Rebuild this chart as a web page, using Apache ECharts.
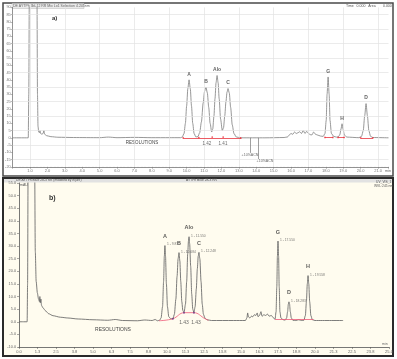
<!DOCTYPE html>
<html><head><meta charset="utf-8">
<script src="https://cdn.jsdelivr.net/npm/echarts@6/dist/echarts.min.js"></script>
<style>html,body{margin:0;padding:0;background:#fff}#c{width:397px;height:359px}</style>
</head><body><div id="c"></div>
<script>
// ---------- data: panel a) ----------
const topXTickLabels = ['1.0','2.0','3.0','4.0','5.0','6.0','7.0','8.0','9.0','10.0','11.0','12.0','13.0','14.0','15.0','16.0','17.0','18.0','19.0','20.0','21.0'];
const topYTickLabels = ['-20','-15','-10','-5','0','5','10','15','20','25','30','35','40','45','50','55','60','65','70','75','80','85','90'];
const topGridX = [1,3,5,7,9,11,13,15,17,19,21];
const topGridY = [-15,-5,5,15,25,35,45,55,65,75,85];
const topTrace = [
 [0,0],[0.9,0],[0.93,30],[0.96,100],[1.0,150],[1.36,150],[1.4,100],[1.43,30],[1.46,8],[1.5,4],[1.54,3.5],[1.57,5],[1.61,3],[1.68,2.5],[1.75,3],[1.8,5],[1.84,2.5],[1.95,1.5],[2.2,0.8],[2.6,0.4],[3.5,0.2],[5,0.1],[5.5,0.5],[6,0.1],[7,0.3],[8,0.1],[9,0.1],[9.65,0.1],
 [9.75,0.5],[9.85,3],[9.93,10],[10.0,22],[10.07,34],[10.14,40],[10.21,34],[10.28,22],[10.35,10],[10.43,3],[10.53,0.6],
 [10.65,0.8],[10.75,3.5],[10.85,11],[10.95,24],[11.03,32],[11.11,35],[11.19,31],[11.27,21],[11.35,10],[11.44,4],
 [11.5,6],[11.57,15],[11.63,27],[11.69,38],[11.75,43],[11.81,38],[11.87,27],[11.95,13],[12.05,5],
 [12.12,7],[12.19,15],[12.26,25],[12.32,31.5],[12.38,34],[12.45,31],[12.53,21],[12.62,9],[12.72,3],[12.85,0.6],[13.1,0],
 [14.5,0],[15.6,0.2],[15.8,0.6],[15.9,2],[16.0,3],[16.1,2.4],[16.2,4],[16.3,3],[16.4,3.5],[16.5,4.2],[16.6,3],[16.7,5],[16.8,3],[16.9,4.5],[17.0,3],[17.1,2.2],[17.2,2],[17.3,4],[17.4,2.5],[17.5,2],[17.7,1.2],
 [17.85,1],[17.95,3],[18.02,12],[18.07,30],[18.13,42],[18.19,30],[18.24,12],[18.32,3],[18.45,1],[18.6,0.5],
 [18.7,0.6],[18.8,2],[18.87,6],[18.93,9.7],[18.99,6],[19.06,2],[19.2,0.5],
 [19.9,0.1],[20.05,1],[20.15,5],[20.23,15],[20.31,23.6],[20.39,15],[20.47,5],[20.57,1],[20.7,0.2],[21.6,0]
];
const topPeakNames = ['A','B','Alo','C','G','H','D'];
const topPeakTimes = [10.14,11.11,11.75,12.38,18.13,18.93,20.31];
const topPeakHeights = [40,35,43,34,42,9.7,23.6];
const topResLabels = ['1.42','1.41'];
const topResTimes = [11.17,12.09];
const topResValues = [-4.2,-4.2];
const topEventTimes = [13.64,14.1];
const topEventDepths = [-10.4,-14.6];
const topEventLabels = ['+10%ACN','+10%ACN'];
const topRedSegs = [[9.8,0,13.15,0],[17.95,0.3,18.4,0.3],[18.7,0.3,19.05,0.3],[20.0,0,20.7,0]];
const topRedDots = [[9.8,0],[10.7,0.2],[11.47,0.5],[12.1,0.5],[13.1,0],[17.95,0.3],[18.4,0.3],[18.7,0.3],[19.05,0.3],[20.0,0],[20.7,0]];

// ---------- data: panel b) ----------
const botXTickLabels = ['0.0','1.3','2.5','3.8','5.0','6.3','7.5','8.8','10.0','11.3','12.5','13.8','15.0','16.3','17.5','18.8','20.0','21.3','22.5','23.8','25.0'];
const botYTickLabels = ['-10.0','-5.0','0.0','5.0','10.0','15.0','20.0','25.0','30.0','35.0','40.0','45.0','50.0','55.0'];
const botTrace = [
 [0,0],[0.55,0],[0.58,15],[0.62,70],[0.66,120],[1.02,120],[1.06,60],[1.1,28],[1.16,16],[1.24,11.5],[1.32,9],[1.38,8],[1.41,10],[1.44,7.5],[1.48,9],[1.52,6.5],[1.62,5.5],[1.8,4.3],[2.0,3.2],[2.3,2.4],[2.8,1.8],[3.3,1.5],[4,1.1],[5,0.8],[6,0.6],[6.5,0.9],[7,0.5],[8,0.4],[8.5,0.7],[9,0.5],[9.2,0.9],[9.35,0.4],
 [9.5,0.6],[9.6,1.5],[9.7,6],[9.77,16],[9.82,26],[9.86,30.2],[9.9,26],[9.96,15],[10.03,6],[10.12,2],[10.25,1.2],
 [10.4,1.2],[10.5,3],[10.6,9],[10.68,18],[10.75,25],[10.81,27.4],[10.87,24],[10.93,16],[11.0,8],[11.07,4.5],[11.15,3.6],
 [11.25,7],[11.33,16],[11.4,27],[11.45,32],[11.49,33.7],[11.53,31],[11.6,22],[11.67,11],[11.74,5],[11.82,3.6],
 [11.9,6],[11.98,13],[12.05,21],[12.11,26],[12.16,27.5],[12.22,25],[12.3,16],[12.38,7],[12.46,3],[12.56,1.5],[12.7,0.8],[13,0.5],
 [14.5,0.5],[15.3,0.5],[15.4,1.5],[15.45,3.5],[15.5,2],[15.6,1.5],[15.7,2.2],[15.8,2],[15.9,2.8],[16.0,2.5],[16.1,3.5],[16.15,2],[16.25,2.5],[16.35,4],[16.42,2.2],[16.55,2.8],[16.65,2.5],[16.8,3],[16.9,2.2],[17.05,2.5],[17.2,1.5],[17.3,1],
 [17.37,4],[17.42,14],[17.46,26],[17.5,32],[17.54,26],[17.58,14],[17.63,4],[17.7,1.5],[17.8,1],[17.9,0.7],
 [18.0,0.7],[18.08,1.5],[18.15,4],[18.2,7],[18.24,7.9],[18.28,7],[18.33,4],[18.4,1.5],[18.5,0.6],[18.7,0.5],[18.9,0.8],[19.1,0.5],
 [19.25,0.6],[19.35,2.5],[19.42,8],[19.48,15],[19.53,18.3],[19.58,15],[19.64,8],[19.72,2.5],[19.82,0.8],[20,0.5],[21.9,0.5]
];
const botPeakNames = ['A','B','Alo','C','G','D','H'];
const botPeakTimes = [9.86,10.81,11.49,12.16,17.5,18.24,19.53];
const botPeakHeights = [30.2,27.4,33.7,27.5,32,7.9,18.3];
const botPeakTags = ['1 - 9.871','1 - 10.684','1 - 11.550','1 - 12.248','1 - 17.550','1 - 18.283','1 - 19.558'];
const botResLabels = ['1.43','1.43'];
const botResTimes = [11.15,11.96];
const botResValues = [-0.4,-0.4];
const botRedCurve = [[9.45,0.4],[10.4,1.2],[11.15,3.6],[11.82,3.6],[12.57,1.2],[12.8,0.6]];
const botRedSegs = [[17.3,0.9,19.9,0.9]];
const botValleyDots = [[10.4,1.2],[11.15,3.6],[11.82,3.6]];

// ---------- chart ----------
const chart = echarts.init(document.getElementById('c'), null, {renderer:'canvas'});
const F = 'Liberation Sans, Arial, sans-serif';
const axisCommon = (color) => ({
  axisLine:{show:true,onZero:false,lineStyle:{color:color,width:0.8}},
  axisTick:{show:true,length:2,lineStyle:{color:color,width:0.5}},
  splitLine:{show:false}
});

const option = {
  animation:false,
  backgroundColor:'#ffffff',
  textStyle:{fontFamily:F},
  grid:[
    {left:12.6, right:8.5, top:7.4, height:159.4},
    {left:19, right:8, top:183, height:164}
  ],
  xAxis:[
    Object.assign({gridIndex:0,type:'value',min:0,max:21.6,interval:1,
      minorTick:{show:true,splitNumber:5,length:1,lineStyle:{color:'#888',width:0.4}},
      axisLabel:{fontSize:4,color:'#777',margin:2,showMaxLabel:false,
        formatter:v=>{const i=Math.round(v)-1;return (i>=0&&i<topXTickLabels.length)?topXTickLabels[i]:'';}}
    }, axisCommon('#777')),
    Object.assign({gridIndex:1,type:'value',min:0,max:25,interval:1.25,
      minorTick:{show:true,splitNumber:5,length:1,lineStyle:{color:'#777',width:0.4}},
      axisLabel:{fontSize:4,color:'#666',margin:3,
        formatter:v=>{const i=Math.round(v/1.25);return botXTickLabels[i]||'';}}
    }, axisCommon('#555'))
  ],
  yAxis:[
    Object.assign({gridIndex:0,type:'value',min:-20,max:90,interval:5,
      axisLabel:{fontSize:3.8,color:'#777',margin:2,
        formatter:v=>topYTickLabels[Math.round((v+20)/5)]||''}
    }, axisCommon('#777')),
    Object.assign({gridIndex:1,type:'value',min:-10,max:55,interval:5,
      axisLabel:{fontSize:3.8,color:'#666',margin:3,
        formatter:v=>botYTickLabels[Math.round((v+10)/5)]||''}
    }, axisCommon('#555'))
  ],
  graphic:[
    {type:'rect',z:-10,shape:{x:3,y:3,width:390,height:173},style:{fill:'#ffffff',stroke:'#4a4a4a',lineWidth:1.5}},
    {type:'rect',z:-9,shape:{x:12,y:3.5,width:72,height:5},style:{fill:'#eaeaea',stroke:'#bbbbbb',lineWidth:0.5}},
    {type:'text',z:5,style:{x:13,y:4,text:'DE AYTPh 3bl-12 RR Mix Lo1 Selection 4.245nm',fontSize:3.5,fill:'#666',fontFamily:F}},
    {type:'text',z:5,style:{x:346,y:4,text:'Time   0.000   Area',fontSize:3.5,fill:'#555',fontFamily:F}},
    {type:'text',z:5,style:{x:383,y:4,text:'0.000',fontSize:3.5,fill:'#555',fontFamily:F}},
    {type:'text',z:5,style:{x:52,y:15,text:'a)',fontSize:6,fontWeight:'bold',fill:'#333',fontFamily:F}},
    {type:'text',z:5,style:{x:142,y:143,text:'RESOLUTIONS',fontSize:4.5,fill:'#444',align:'center',verticalAlign:'middle',fontFamily:F}},
    {type:'text',z:5,style:{x:385,y:168.5,text:'min',fontSize:3.8,fill:'#666',fontFamily:F}},

    {type:'rect',z:-10,shape:{x:3,y:178,width:390,height:178},style:{fill:'#fffcef',stroke:'#2a2a2a',lineWidth:2}},
    {type:'rect',z:-9,shape:{x:4,y:179,width:388,height:3.5},style:{fill:'#e2e2e2'}},
    {type:'text',z:5,style:{x:16,y:179,text:'DE AYTPh Blue 28-3 RR (modified by Injure)',fontSize:3.3,fill:'#555',fontFamily:F}},
    {type:'text',z:5,style:{x:186,y:179,text:'AYTPh Blue 28-3 RR',fontSize:3.3,fill:'#555',fontFamily:F}},
    {type:'text',z:5,style:{x:376,y:180.5,text:'UV_VIS_1',fontSize:3.3,fill:'#555',fontFamily:F}},
    {type:'text',z:5,style:{x:374,y:184.5,text:'WVL:245 nm',fontSize:3.3,fill:'#555',fontFamily:F}},
    {type:'text',z:5,style:{x:20,y:183.5,text:'mAU',fontSize:3.5,fill:'#555',fontFamily:F}},
    {type:'text',z:5,style:{x:49,y:195,text:'b)',fontSize:7,fontWeight:'bold',fill:'#333',fontFamily:F}},
    {type:'text',z:5,style:{x:113,y:330,text:'RESOLUTIONS',fontSize:5,fill:'#444',align:'center',verticalAlign:'middle',fontFamily:F}},
    {type:'text',z:5,style:{x:382,y:342,text:'min',fontSize:3.5,fill:'#666',fontFamily:F}}
  ],
  series:[
    {type:'line',xAxisIndex:0,yAxisIndex:0,data:[],silent:true,z:1,
      markLine:{silent:true,symbol:'none',animation:false,label:{show:false},
        lineStyle:{color:'#e2e2e2',width:0.7,type:'solid'},
        data:topGridX.map(v=>({xAxis:v})).concat(topGridY.map(v=>({yAxis:v})))}},
    {type:'line',xAxisIndex:0,yAxisIndex:0,data:topTrace,showSymbol:false,smooth:0.25,smoothMonotone:'x',
      lineStyle:{color:'#7e7e7e',width:0.8},z:3},
    {type:'line',xAxisIndex:0,yAxisIndex:0,data:[],z:4,
      markLine:{silent:true,symbol:'none',label:{show:false},animation:false,
        data:topRedSegs.map(s=>[{coord:[s[0],s[1]],lineStyle:{color:'#e8333d',width:0.8,type:'solid'}},{coord:[s[2],s[3]]}])
          .concat(topEventTimes.map((t,i)=>[{coord:[t,0],lineStyle:{color:'#777',width:0.7,type:'solid'}},{coord:[t,topEventDepths[i]]}]))}},
    {type:'scatter',xAxisIndex:0,yAxisIndex:0,data:topRedDots,symbol:'circle',symbolSize:1.8,itemStyle:{color:'#e8333d'},z:5},
    {type:'scatter',xAxisIndex:0,yAxisIndex:0,symbolSize:0,z:6,
      data:topPeakTimes.map((t,i)=>({value:[t,topPeakHeights[i]],name:topPeakNames[i]})),
      label:{show:true,position:'top',distance:3,formatter:p=>p.name,fontSize:5,fontWeight:'bold',color:'#3a3a3a',fontFamily:F}},
    {type:'scatter',xAxisIndex:0,yAxisIndex:0,symbolSize:0,z:6,
      data:topResTimes.map((t,i)=>({value:[t,topResValues[i]],name:topResLabels[i]})),
      label:{show:true,position:'inside',formatter:p=>p.name,fontSize:4.5,color:'#444',fontFamily:F}},
    {type:'scatter',xAxisIndex:0,yAxisIndex:0,symbolSize:0,z:6,
      data:topEventTimes.map((t,i)=>({value:[t,topEventDepths[i]],name:topEventLabels[i],label:{offset:i===0?[0,0]:[7,0]}})),
      label:{show:true,position:'bottom',distance:0.5,formatter:p=>p.name,fontSize:3.6,color:'#444',fontFamily:F}},

    {type:'line',xAxisIndex:1,yAxisIndex:1,data:botTrace,showSymbol:false,smooth:0.25,smoothMonotone:'x',
      lineStyle:{color:'#666666',width:0.85},z:3},
    {type:'line',xAxisIndex:1,yAxisIndex:1,data:botRedCurve,showSymbol:false,smooth:0.4,
      lineStyle:{color:'#ee5a78',width:0.8},z:4,
      markLine:{silent:true,symbol:'none',label:{show:false},animation:false,
        data:botRedSegs.map(s=>[{coord:[s[0],s[1]],lineStyle:{color:'#ee5a78',width:0.8,type:'solid'}},{coord:[s[2],s[3]]}])}},
    {type:'scatter',xAxisIndex:1,yAxisIndex:1,data:botValleyDots,symbolSize:2,itemStyle:{color:'#6a3a8a'},z:5},
    {type:'scatter',xAxisIndex:1,yAxisIndex:1,symbolSize:0,z:6,
      data:botPeakTimes.map((t,i)=>({value:[t,botPeakHeights[i]],name:botPeakNames[i]})),
      label:{show:true,position:'top',distance:6,formatter:p=>p.name,fontSize:5.5,fontWeight:'bold',color:'#333',fontFamily:F}},
    {type:'scatter',xAxisIndex:1,yAxisIndex:1,symbolSize:0,z:6,
      data:botPeakTimes.map((t,i)=>({value:[t,botPeakHeights[i]],name:botPeakTags[i]})),
      label:{show:true,position:'right',distance:2,offset:[0,-1],formatter:p=>p.name,fontSize:3.3,color:'#555',fontFamily:F}},
    {type:'scatter',xAxisIndex:1,yAxisIndex:1,symbolSize:0,z:6,
      data:botResTimes.map((t,i)=>({value:[t,botResValues[i]],name:botResLabels[i]})),
      label:{show:true,position:'inside',formatter:p=>p.name,fontSize:5,color:'#444',fontFamily:F}}
  ]
};
chart.setOption(option);
</script>
</body></html>
